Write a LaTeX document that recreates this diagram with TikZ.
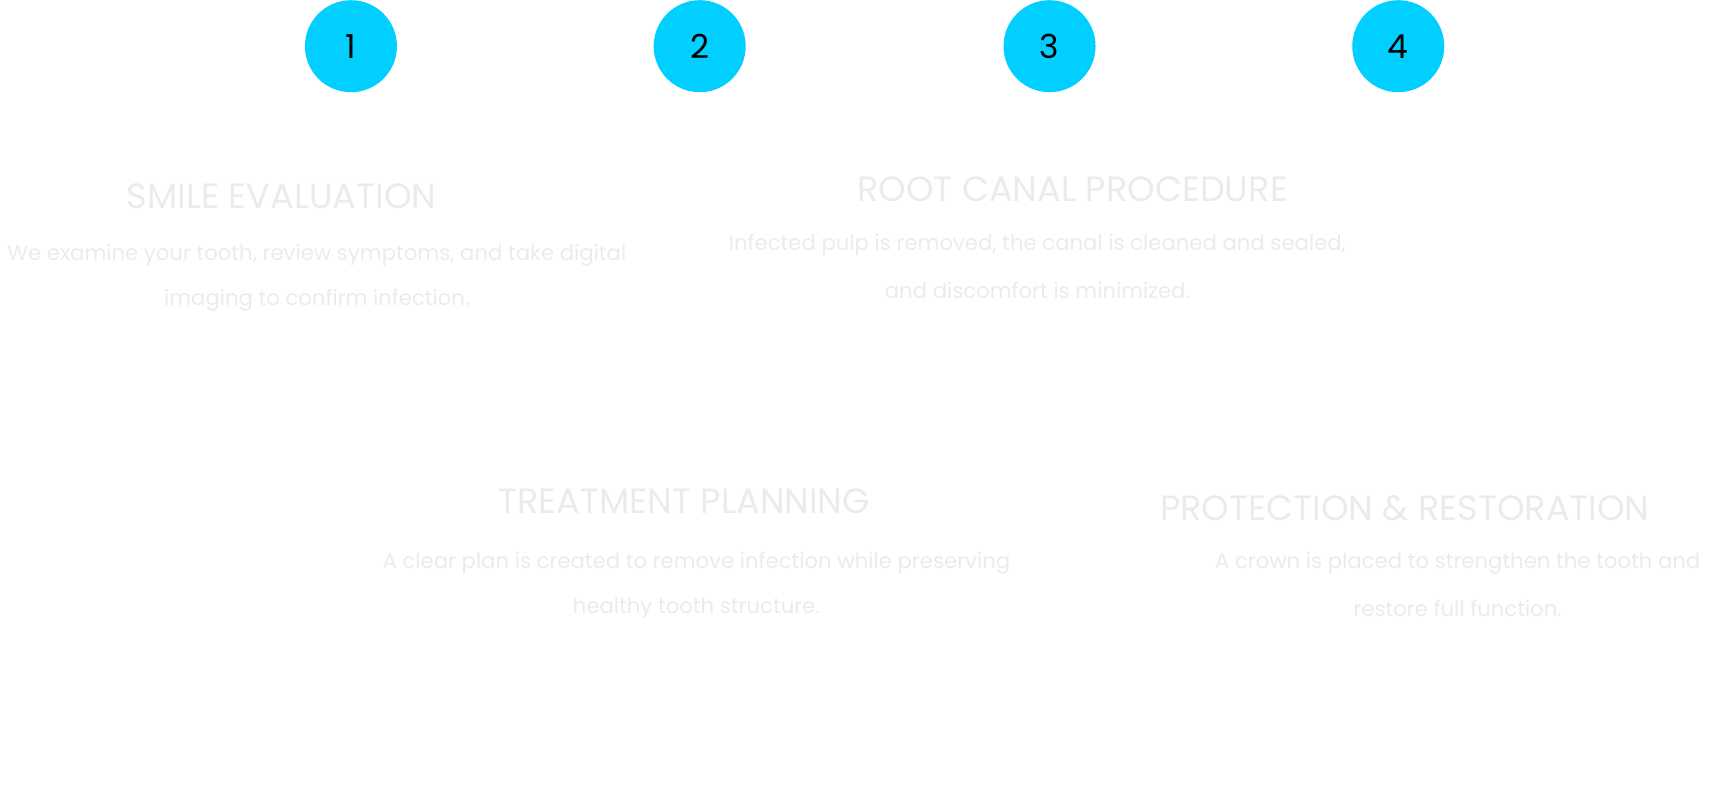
\documentclass[tikz,border=0pt]{standalone}
\usepackage{fontspec}
\setmainfont{Poppins}
\definecolor{cy}{HTML}{00CFFF}
\definecolor{lt}{HTML}{EBEBEB}
\begin{document}
\begin{tikzpicture}[x=1.1pt,y=-1.1pt,
  num/.style={circle,fill=cy,minimum size=92pt,inner sep=0pt,font=\fontsize{33}{35}\selectfont,text=black},
  ttl/.style={text=lt,font=\fontsize{35.1}{38}\selectfont,inner sep=0pt},
  bdy/.style={text=lt,font=\fontsize{21.2}{24}\selectfont,inner sep=0pt}]
\useasboundingbox (0,0) rectangle (1568,726.3);
\node[num] (c1) at (319,42) {1};
\node[num] (c2) at (636,42) {2};
\node[num] (c3) at (954,42) {3};
\node[num] (c4) at (1271,42) {4};
\node[ttl] (t1) at (256,178) {SMILE EVALUATION};
\node[bdy] (b1a) at (288,232) {We examine your tooth, review symptoms, and take digital};
\node[bdy] (b1b) at (288,273) {imaging to confirm infection.};
\node[ttl] (t2) at (975,172) {ROOT CANAL PROCEDURE};
\node[bdy] (b2a) at (943,223) {Infected pulp is removed, the canal is cleaned and sealed,};
\node[bdy] (b2b) at (943,264) {and discomfort is minimized.};
\node[ttl] (t3) at (622,456) {TREATMENT PLANNING};
\node[bdy] (b3a) at (633,512) {A clear plan is created to remove infection while preserving};
\node[bdy] (b3b) at (633,553) {healthy tooth structure.};
\node[ttl] (t4) at (1277,462) {PROTECTION \& RESTORATION};
\node[bdy] (b4a) at (1325,512) {A crown is placed to strengthen the tooth and};
\node[bdy] (b4b) at (1325,553) {restore full function.};
\end{tikzpicture}
\end{document}
